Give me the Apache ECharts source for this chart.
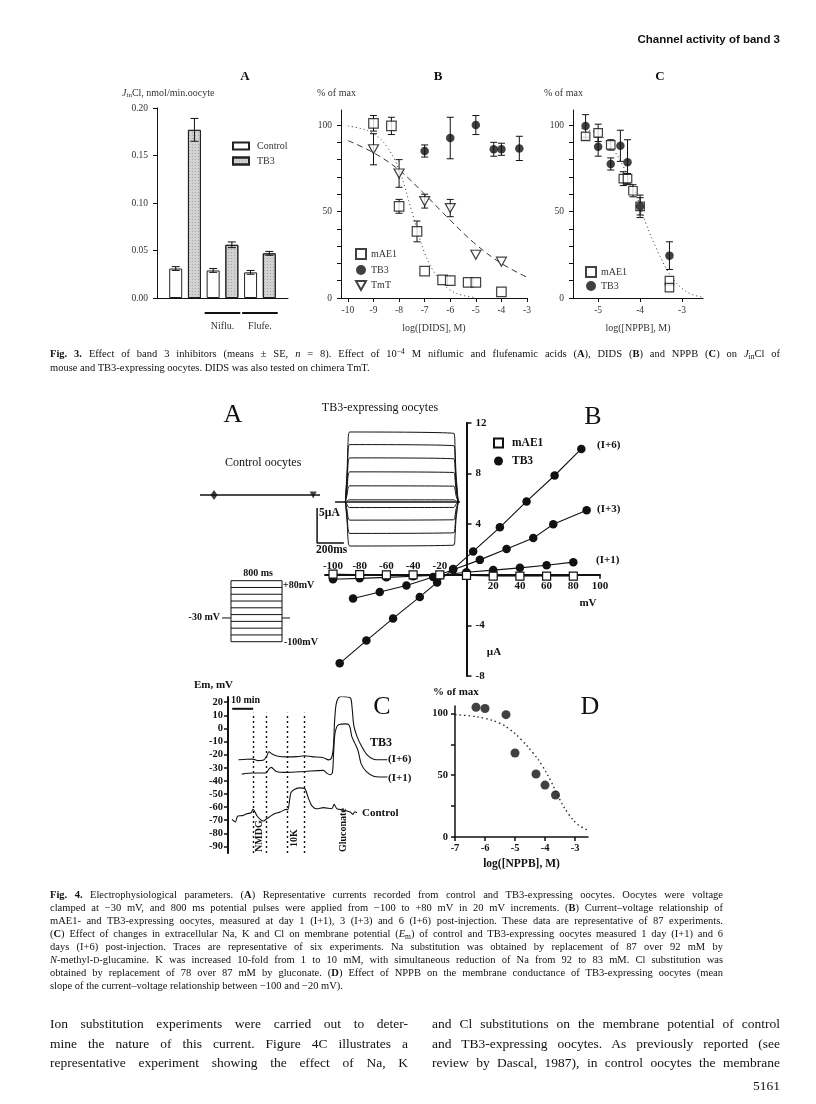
<!DOCTYPE html>
<html><head><meta charset="utf-8">
<script src="https://cdn.jsdelivr.net/npm/echarts@6/dist/echarts.min.js"></script>
<style>
body{margin:0;background:#fff;}
#page{position:relative;width:816px;height:1104px;overflow:hidden;font-family:"Liberation Serif","Times New Roman",serif;color:#111;background:#fff;}
#chart{position:absolute;left:0;top:0;width:816px;height:1104px;}
.t{position:absolute;white-space:nowrap;}
.j{position:absolute;white-space:nowrap;display:inline-block;}
.cap{font-size:10.5px;}
.body{font-size:13.5px;}
.sub{font-size:0.72em;vertical-align:-0.25em;line-height:0;}
.sup{font-size:0.72em;vertical-align:0.45em;line-height:0;}
</style></head><body>
<div id="page">
<div id="chart"></div>
<div class="t" style="right:36px;top:33px;font:bold 11.5px 'Liberation Sans',sans-serif;">Channel activity of band 3</div>

<div class="j cap" data-w="730" style="left:50px;top:348px;"><b>Fig. 3.</b> Effect of band 3 inhibitors (means ± SE, <i>n</i> = 8). Effect of 10<span class="sup">−4</span> M niflumic and flufenamic acids (<b>A</b>), DIDS (<b>B</b>) and NPPB (<b>C</b>) on <i>J</i><span class="sub">in</span>Cl of</div>
<div class="t cap" style="left:50px;top:362px;">mouse and TB3-expressing oocytes. DIDS was also tested on chimera TmT.</div>

<div class="j cap" data-w="673" style="left:50px;top:889px;"><b>Fig. 4.</b> Electrophysiological parameters. (<b>A</b>) Representative currents recorded from control and TB3-expressing oocytes. Oocytes were voltage</div>
<div class="j cap" data-w="673" style="left:50px;top:902px;">clamped at −30 mV, and 800 ms potential pulses were applied from −100 to +80 mV in 20 mV increments. (<b>B</b>) Current–voltage relationship of</div>
<div class="j cap" data-w="673" style="left:50px;top:915px;">mAE1- and TB3-expressing oocytes, measured at day 1 (I+1), 3 (I+3) and 6 (I+6) post-injection. These data are representative of 87 experiments.</div>
<div class="j cap" data-w="673" style="left:50px;top:928px;">(<b>C</b>) Effect of changes in extracellular Na, K and Cl on membrane potential (<i>E</i><span class="sub">m</span>) of control and TB3-expressing oocytes measured 1 day (I+1) and 6</div>
<div class="j cap" data-w="673" style="left:50px;top:941px;">days (I+6) post-injection. Traces are representative of six experiments. Na substitution was obtained by replacement of 87 over 92 mM by</div>
<div class="j cap" data-w="673" style="left:50px;top:954px;"><i>N</i>-methyl-<span style="font-size:0.8em">D</span>-glucamine. K was increased 10-fold from 1 to 10 mM, with simultaneous reduction of Na from 92 to 83 mM. Cl substitution was</div>
<div class="j cap" data-w="673" style="left:50px;top:967px;">obtained by replacement of 78 over 87 mM by gluconate. (<b>D</b>) Effect of NPPB on the membrane conductance of TB3-expressing oocytes (mean</div>
<div class="t cap" style="left:50px;top:980px;">slope of the current–voltage relationship between −100 and −20 mV).</div>

<div class="j body" data-w="358" style="left:50px;top:1016px;">Ion substitution experiments were carried out to deter-</div>
<div class="j body" data-w="358" style="left:50px;top:1035.5px;">mine the nature of this current. Figure 4C illustrates a</div>
<div class="j body" data-w="358" style="left:50px;top:1055px;">representative experiment showing the effect of Na, K</div>
<div class="j body" data-w="348" style="left:432px;top:1016px;">and Cl substitutions on the membrane potential of control</div>
<div class="j body" data-w="348" style="left:432px;top:1035.5px;">and TB3-expressing oocytes. As previously reported (see</div>
<div class="j body" data-w="348" style="left:432px;top:1055px;">review by Dascal, 1987), in control oocytes the membrane</div>
<div class="t body" style="right:36px;top:1078px;">5161</div>
</div>
<script>
// ================= DATA =================
// Fig 3A : JinCl flux (nmol/min.oocyte)
const fig3aGroups = ['', 'Niflu.', 'Flufe.'];
const fig3aControl = [0.031, 0.029, 0.027];
const fig3aControlSE = [0.002, 0.002, 0.002];
const fig3aTB3 = [0.177, 0.056, 0.047];
const fig3aTB3SE = [0.012, 0.003, 0.002];

// Fig 3B : DIDS (% of max)
const didsTicks = [-10, -9, -8, -7, -6, -5, -4, -3];
const pctTicks = [0, 10, 20, 30, 40, 50, 60, 70, 80, 90, 100];
const pctLabels = [0, 50, 100];
const bMae1X = [-9, -8.3, -8, -7.3, -7, -6.3, -6, -5.3, -5, -4];
const bMae1Y = [101, 99.5, 53, 38.5, 15.5, 10.5, 10, 9, 9, 3.5];
const bMae1E = [4.5, 5, 4, 6, 0, 0, 0, 0, 0, 0];
const bTb3X = [-7, -6, -5, -4.3, -4, -3.3];
const bTb3Y = [85, 92.5, 100, 86, 86, 86.5];
const bTb3E = [3.5, 12, 5.5, 4, 3.5, 7];
const bTmtX = [-9, -8, -7, -6, -5, -4];
const bTmtY = [86, 72, 56, 52, 25, 21];
const bTmtE = [9, 8, 4, 5, 0, 0];
const bFitMae1X = [-10, -9.5, -9, -8.5, -8, -7.5, -7, -6.5, -6, -5.5, -5];
const bFitMae1Y = [99.5, 98, 95, 88, 74, 50, 26, 12, 4.5, 1.5, 0.3];
const bFitTmtX = [-10, -9, -8, -7, -6, -5, -4, -3];
const bFitTmtY = [91, 84, 74, 60, 45, 31, 20, 12];

// Fig 3C : NPPB (% of max)
const nppbTicksC = [-5, -4, -3];
const cMae1X = [-5.3, -5, -4.7, -4.4, -4.3, -4.17, -4, -3.3, -3.3];
const cMae1Y = [93.5, 95.5, 88.5, 69, 69, 62, 53, 10, 6];
const cMae1E = [2, 5, 3, 4, 3, 3.5, 5, 0, 0];
const cTb3X = [-5.3, -5, -4.7, -4.47, -4.3, -4, -3.3];
const cTb3Y = [99.5, 87.5, 77.5, 88, 78.5, 53, 24.5];
const cTb3E = [6.5, 5.5, 3.5, 9, 13, 6.5, 8];
const cFitX = [-5.4, -5, -4.7, -4.4, -4.1, -3.86, -3.6, -3.3, -3, -2.75, -2.5];
const cFitY = [98, 95, 88, 76, 60, 43, 28, 14, 5.5, 2, 0.5];

// Fig 4A : current traces (µA) and voltage protocol (mV)
const tb3PulseLevels = [10.0, 8.2, 6.3, 4.3, 2.3, 0.3, -0.8, -2.6, -4.5, -6.3];
const pulseShapeT = [-20, -6, 0, 12, 790, 798, 806, 822];
const pulseShapeF = [0, 0.5, 0.85, 1, 0.98, 0.8, 0.4, 0];
const protocolLevels = [-100, -80, -60, -40, -20, 0, 20, 40, 60, 80];
const holdingMV = -30;
const pulseMs = 800;

// Fig 4B : current-voltage (mV, µA)
const ivMae1MV = [-100, -80, -60, -40, -20, 0, 20, 40, 60, 80];
const ivMae1UA = [0.05, 0.02, 0, 0, 0, -0.05, -0.1, -0.1, -0.1, -0.1];
const ivI1MV = [-100, -80, -60, -40, -20, 0, 20, 40, 60, 80];
const ivI1UA = [-0.35, -0.28, -0.2, -0.12, -0.04, 0.2, 0.37, 0.55, 0.75, 1.0];
const ivI3MV = [-85, -65, -45, -25, -10, 10, 30, 50, 65, 90];
const ivI3UA = [-1.88, -1.36, -0.84, -0.18, 0.4, 1.18, 2.04, 2.9, 4.0, 5.1];
const ivI6MV = [-95, -75, -55, -35, -22, -10, 5, 25, 45, 66, 86];
const ivI6UA = [-7.0, -5.2, -3.45, -1.75, -0.6, 0.45, 1.85, 3.75, 5.8, 7.85, 9.95];
const ivXTicksNeg = [-100, -80, -60, -40, -20];
const ivXTicksPos = [20, 40, 60, 80, 100];
const ivYTicks = [-8, -4, 4, 8, 12];

// Fig 4C : membrane potential traces [time (min), Em (mV)]
const emTicks = [-90, -80, -70, -60, -50, -40, -30, -20, -10, 0, 10, 20];
const emControl = [[1.9,-69.3],[3.5,-71.3],[4.7,-66.8],[7,-66.5],[9,-65],[11,-64.3],[11.9,-61.7],[13.9,-66.8],[15.5,-69.5],[17,-70.6],[18.1,-69.3],[21.7,-65.5],[24.9,-63.7],[27.8,-61.7],[28.5,-62],[30,-49],[31.6,-46.5],[34,-45.3],[36.5,-45.8],[38.3,-53],[40,-59],[42.4,-61.2],[45.5,-60.4],[49.5,-61.2],[50.6,-57.9],[51.9,-61.2],[55,-62.2],[58.2,-63.7],[59.5,-65.5],[60.5,-63.5],[61.5,-64.3]];
const emI6 = [[5.0,-23.9],[9,-23.5],[11.9,-23.4],[14,-24.5],[17,-24],[18.5,-21],[19.5,-17.8],[21,-19.5],[23.3,-21],[28,-21.7],[33,-21.5],[36.5,-20.8],[40,-21.5],[45.5,-22.3],[47.9,-24],[49.3,-22.5],[50.2,-15],[50.8,5],[51.5,18],[52.5,23],[54,24.5],[57,24],[58.5,23],[59.2,15],[60,2],[61.5,-6],[63.5,-13],[66,-19.5],[69.4,-23.5],[72.5,-23.9],[76,-23.9]];
const emI1 = [[6.6,-34.8],[11.9,-34],[18,-34],[19.5,-31],[20.6,-29.7],[23,-32.8],[28.1,-33.5],[36.5,-32.8],[45.5,-32],[47,-34],[48.7,-35.3],[49.8,-33.5],[50.3,-20],[50.9,-5],[51.8,1],[53,3],[56,3.5],[57.5,3],[58.3,0],[59,-6],[60.4,-11],[62,-17],[63.5,-27],[66,-33],[69.4,-36.5],[72.5,-37],[76,-37]];
const solutionTimes = [11.9, 18.1, 28.1, 36.5, 50.0, 59.0];
const solutionTops = [12, 12, 12, 12, 27, 27];
const solutionNames = ['NMDG', '10K', 'Gluconate'];

// Fig 4D : NPPB effect on conductance (% of max)
const nppbTicksD = [-7, -6, -5, -4, -3];
const dX = [-6.3, -6.0, -5.3, -5.0, -4.3, -4.0, -3.65];
const dY = [105, 104, 99, 68, 51, 42, 34];
const dFitX = [-7, -6.5, -6, -5.5, -5.17, -4.8, -4.4, -4.1, -3.8, -3.5, -3.2, -2.9, -2.57];
const dFitY = [99, 98, 96, 92, 87, 79, 68, 58, 45, 30, 18, 10, 5.5];

// ================= CHART =================
const SERIF = 'Liberation Serif';
const zip = (xs, ys) => xs.map((x, i) => [x, ys[i]]);
const zip3 = (xs, ys, es) => xs.map((x, i) => [x, ys[i], es[i]]);
const ink = '#111';
const f3Label = {fontFamily: SERIF, fontSize: 9.5, color: '#333'};
const f4Label = {fontFamily: SERIF, fontSize: 11, color: ink, fontWeight: 'bold'};
const lineStyle = (w) => ({color: ink, width: w});

// grid for 4B and the resulting axis-crossing offsets (axes cross at 0,0)
const ivGrid = {left: 325, top: 423, width: 275, height: 253};
const ivX = [-106, 100], ivY = [-8, 12];
const ivZeroX = (0 - ivX[0]) / (ivX[1] - ivX[0]) * ivGrid.width;
const ivZeroYfromBottom = (0 - ivY[0]) / (ivY[1] - ivY[0]) * ivGrid.height;

function errSeries(xi, yi, data, cap) {
  return {type: 'custom', xAxisIndex: xi, yAxisIndex: yi, data, z: 1, silent: true,
    encode: {x: 0, y: 1}, clip: false,
    renderItem: (p, api) => {
      const x = api.value(0), y = api.value(1), e = api.value(2);
      if (!e) return null;
      const a = api.coord([x, y + e]), b = api.coord([x, y - e]), h = cap / 2;
      const st = {stroke: ink, lineWidth: 1};
      return {type: 'group', children: [
        {type: 'line', shape: {x1: a[0], y1: a[1], x2: b[0], y2: b[1]}, style: st},
        {type: 'line', shape: {x1: a[0] - h, y1: a[1], x2: a[0] + h, y2: a[1]}, style: st},
        {type: 'line', shape: {x1: b[0] - h, y1: b[1], x2: b[0] + h, y2: b[1]}, style: st}]};
    }};
}
const openSquare = (s) => ({symbol: 'rect', symbolSize: s, itemStyle: {color: '#fff', borderColor: ink, borderWidth: 1.2}});
const dot = (s) => ({symbol: 'circle', symbolSize: s, itemStyle: {color: ink}});
const openTri = (s) => ({symbol: 'triangle', symbolRotate: 180, symbolSize: s, itemStyle: {color: '#fff', borderColor: ink, borderWidth: 1.2}});

const xAxes = [
  // 0: 3A
  {gridIndex: 0, type: 'value', min: 0, max: 7, axisLine: {show: true, onZero: false, lineStyle: lineStyle(1)},
   axisTick: {show: false}, splitLine: {show: false},
   axisLabel: {customValues: [3.5, 5.5], formatter: v => fig3aGroups[Math.round((v - 1.5) / 2)], margin: 23, ...f3Label, fontSize: 10}},
  // 1: 3B
  {gridIndex: 1, type: 'value', min: -10.27, max: -3, axisLine: {show: true, onZero: false, lineStyle: lineStyle(1)},
   axisTick: {show: true, customValues: didsTicks, length: 4, lineStyle: lineStyle(1)}, splitLine: {show: false},
   axisLabel: {customValues: didsTicks, margin: 7, ...f3Label},
   name: 'log([DIDS], M)', nameLocation: 'middle', nameGap: 25, nameTextStyle: {...f3Label, fontSize: 10}},
  // 2: 3C
  {gridIndex: 2, type: 'value', min: -5.6, max: -2.5, axisLine: {show: true, onZero: false, lineStyle: lineStyle(1)},
   axisTick: {show: true, customValues: nppbTicksC, length: 4, lineStyle: lineStyle(1)}, splitLine: {show: false},
   axisLabel: {customValues: nppbTicksC, margin: 7, ...f3Label},
   name: 'log([NPPB], M)', nameLocation: 'middle', nameGap: 25, nameTextStyle: {...f3Label, fontSize: 10}},
  // 3: 4A control
  {gridIndex: 3, type: 'value', min: -113, max: 855, show: false},
  // 4: 4A TB3
  {gridIndex: 4, type: 'value', min: -284, max: 873, show: false},
  // 5: protocol
  {gridIndex: 5, type: 'value', min: -141, max: 925, show: false},
  // 6: 4B bottom (positive labels), moved up to y = 0
  {gridIndex: 6, type: 'value', min: ivX[0], max: ivX[1], position: 'bottom', offset: -ivZeroYfromBottom,
   axisLine: {show: true, onZero: false, lineStyle: lineStyle(2)},
   axisTick: {show: true, customValues: ivXTicksPos, length: 4, lineStyle: lineStyle(1.5)}, splitLine: {show: false},
   axisLabel: {customValues: ivXTicksPos, margin: 6, ...f4Label}},
  // 7: 4B top (negative labels), moved down to y = 0
  {gridIndex: 6, type: 'value', min: ivX[0], max: ivX[1], position: 'top', offset: -(ivGrid.height - ivZeroYfromBottom),
   axisLine: {show: false, onZero: false}, axisTick: {show: false}, splitLine: {show: false},
   axisLabel: {customValues: ivXTicksNeg, margin: 3, ...f4Label}},
  // 8: 4C
  {gridIndex: 7, type: 'value', min: 0, max: 82, show: false},
  // 9: 4D
  {gridIndex: 8, type: 'value', min: -7, max: -2.567, axisLine: {show: true, onZero: false, lineStyle: lineStyle(1.5)},
   axisTick: {show: true, customValues: nppbTicksD, length: 4, lineStyle: lineStyle(1.5)}, splitLine: {show: false},
   axisLabel: {customValues: nppbTicksD, margin: 6, ...f4Label, fontSize: 10.5},
   name: 'log([NPPB], M)', nameLocation: 'middle', nameGap: 21, nameTextStyle: {...f4Label, fontSize: 11.5}}
];

const yAxes = [
  // 0: 3A
  {gridIndex: 0, type: 'value', min: 0, max: 0.2, interval: 0.05, axisLine: {show: true, onZero: false, lineStyle: lineStyle(1)},
   axisTick: {show: true, length: 4, lineStyle: lineStyle(1)}, splitLine: {show: false},
   axisLabel: {formatter: v => v.toFixed(2), margin: 9, ...f3Label}},
  // 1: 3B
  {gridIndex: 1, type: 'value', min: 0, max: 108.7, axisLine: {show: true, onZero: false, lineStyle: lineStyle(1)},
   axisTick: {show: true, customValues: pctTicks, length: 4, lineStyle: lineStyle(1)}, splitLine: {show: false},
   axisLabel: {customValues: pctLabels, margin: 9, ...f3Label}},
  // 2: 3C
  {gridIndex: 2, type: 'value', min: 0, max: 108.7, axisLine: {show: true, onZero: false, lineStyle: lineStyle(1)},
   axisTick: {show: true, customValues: pctTicks, length: 4, lineStyle: lineStyle(1)}, splitLine: {show: false},
   axisLabel: {customValues: pctLabels, margin: 9, ...f3Label}},
  // 3: 4A control
  {gridIndex: 3, type: 'value', min: -2, max: 2, show: false},
  // 4: 4A TB3
  {gridIndex: 4, type: 'value', min: -8.3, max: 11, show: false},
  // 5: protocol
  {gridIndex: 5, type: 'value', min: -110, max: 90, show: false},
  // 6: 4B, moved right to x = 0
  {gridIndex: 6, type: 'value', min: ivY[0], max: ivY[1], position: 'left', offset: -ivZeroX,
   axisLine: {show: true, onZero: false, lineStyle: lineStyle(2)},
   axisTick: {show: true, inside: true, customValues: ivYTicks, length: 5, lineStyle: lineStyle(1.5)}, splitLine: {show: false},
   axisLabel: {inside: true, customValues: ivYTicks, margin: 9, ...f4Label}},
  // 7: 4C
  {gridIndex: 7, type: 'value', min: -95, max: 24, axisLine: {show: true, onZero: false, lineStyle: lineStyle(2)},
   axisTick: {show: true, customValues: emTicks, length: 4, lineStyle: lineStyle(1.5)}, splitLine: {show: false},
   axisLabel: {customValues: emTicks, margin: 5, ...f4Label, fontSize: 10.5}},
  // 8: 4D
  {gridIndex: 8, type: 'value', min: 0, max: 106, axisLine: {show: true, onZero: false, lineStyle: lineStyle(1.5)},
   axisTick: {show: true, customValues: [0, 25, 50, 75, 100], length: 4, lineStyle: lineStyle(1.5)}, splitLine: {show: false},
   axisLabel: {customValues: pctLabels, margin: 7, ...f4Label, fontSize: 10.5}}
];

const series = [];
// ---- Fig 3A bars
series.push({name: 'Control|A', type: 'bar', xAxisIndex: 0, yAxisIndex: 0, barWidth: 13, barGap: '-100%',
  data: fig3aControl.map((v, g) => [2 * g + 1, v]), itemStyle: {color: '#fff', borderColor: '#222', borderWidth: 1}, z: 2});
series.push({name: 'TB3|A', type: 'bar', xAxisIndex: 0, yAxisIndex: 0, barWidth: 13, barGap: '-100%',
  data: fig3aTB3.map((v, g) => [2 * g + 2, v]), itemStyle: {color: '#d2d2d2', borderColor: '#222', borderWidth: 1,
  decal: {symbol: 'rect', symbolSize: 1, dashArrayX: [1, 2], dashArrayY: [1, 2], color: 'rgba(0,0,0,0.22)'}}, z: 2});
const e3a = errSeries(0, 0, fig3aControl.map((v, g) => [2 * g + 1, v, fig3aControlSE[g]]).concat(
  fig3aTB3.map((v, g) => [2 * g + 2, v, fig3aTB3SE[g]])), 8); e3a.z = 3; series.push(e3a);
series.push({type: 'custom', xAxisIndex: 0, yAxisIndex: 0, silent: true, clip: false,
  data: fig3aGroups.map((n, g) => [2 * g + 0.55, 2 * g + 2.45, g]).filter(d => fig3aGroups[d[2]]),
  encode: {x: [0, 1]},
  renderItem: (p, api) => {
    const a = api.coord([api.value(0), 0]), b = api.coord([api.value(1), 0]);
    return {type: 'line', shape: {x1: a[0], y1: a[1] + 15, x2: b[0], y2: b[1] + 15}, style: {stroke: ink, lineWidth: 2}};
  }});

// ---- Fig 3B
series.push({type: 'line', xAxisIndex: 1, yAxisIndex: 1, data: zip(bFitMae1X, bFitMae1Y), smooth: 0.4, symbol: 'none', silent: true,
  lineStyle: {color: '#333', width: 1, type: [1, 3]}});
series.push({type: 'line', xAxisIndex: 1, yAxisIndex: 1, data: zip(bFitTmtX, bFitTmtY), smooth: 0.4, symbol: 'none', silent: true,
  lineStyle: {color: '#333', width: 1, type: [6, 4]}});
series.push(errSeries(1, 1, zip3(bMae1X, bMae1Y, bMae1E), 7));
series.push(errSeries(1, 1, zip3(bTb3X, bTb3Y, bTb3E), 7));
series.push(errSeries(1, 1, zip3(bTmtX, bTmtY, bTmtE), 7));
series.push({name: 'mAE1|B', type: 'scatter', xAxisIndex: 1, yAxisIndex: 1, data: zip(bMae1X, bMae1Y), z: 4, ...openSquare(9.5)});
series.push({name: 'TB3|B', type: 'scatter', xAxisIndex: 1, yAxisIndex: 1, data: zip(bTb3X, bTb3Y), z: 4, ...dot(8.5)});
series.push({name: 'TmT|B', type: 'scatter', xAxisIndex: 1, yAxisIndex: 1, data: zip(bTmtX, bTmtY), z: 4, ...openTri([10, 9])});

// ---- Fig 3C
series.push({type: 'line', xAxisIndex: 2, yAxisIndex: 2, data: zip(cFitX, cFitY), smooth: 0.4, symbol: 'none', silent: true,
  lineStyle: {color: '#333', width: 1, type: [1, 3]}});
series.push(errSeries(2, 2, zip3(cMae1X, cMae1Y, cMae1E), 7));
series.push(errSeries(2, 2, zip3(cTb3X, cTb3Y, cTb3E), 7));
series.push({name: 'mAE1|C', type: 'scatter', xAxisIndex: 2, yAxisIndex: 2, data: zip(cMae1X, cMae1Y), z: 4, ...openSquare(8.5)});
series.push({name: 'TB3|C', type: 'scatter', xAxisIndex: 2, yAxisIndex: 2, data: zip(cTb3X, cTb3Y), z: 4, ...dot(8.5)});

// ---- Fig 4A control trace
series.push({type: 'line', xAxisIndex: 3, yAxisIndex: 3, data: [[-113, 0], [855, 0]], symbol: 'none', silent: true, clip: false,
  lineStyle: {color: ink, width: 1.5}});
series.push({type: 'scatter', xAxisIndex: 3, yAxisIndex: 3, silent: true,
  data: [{value: [0, 0], symbol: 'diamond', symbolSize: [7, 10]}, {value: [pulseMs, 0], symbol: 'triangle', symbolRotate: 180, symbolSize: [7, 7]}],
  itemStyle: {color: ink}});
// ---- Fig 4A TB3 traces
series.push({type: 'line', xAxisIndex: 4, yAxisIndex: 4, data: [[-97, 0], [836, 0]], symbol: 'none', silent: true, clip: false,
  lineStyle: {color: ink, width: 1.5}});
tb3PulseLevels.forEach(L => series.push({type: 'line', xAxisIndex: 4, yAxisIndex: 4, symbol: 'none', silent: true, clip: false,
  smooth: 0.2, data: pulseShapeT.map((t, k) => [t, L * pulseShapeF[k]]), lineStyle: {color: ink, width: 1}}));
// scale bar 5 µA / 200 ms
series.push({type: 'line', xAxisIndex: 4, yAxisIndex: 4, symbol: 'none', silent: true, clip: false,
  data: [[-231, -0.86], [-231, -5.86], [-231 + 200, -5.86]], lineStyle: {color: ink, width: 1.5}});
// ---- voltage protocol
protocolLevels.forEach(v => series.push({type: 'line', xAxisIndex: 5, yAxisIndex: 5, symbol: 'none', silent: true, clip: false,
  data: [[0, v], [pulseMs, v]], lineStyle: {color: ink, width: 1}}));
[0, pulseMs].forEach(t => series.push({type: 'line', xAxisIndex: 5, yAxisIndex: 5, symbol: 'none', silent: true, clip: false,
  data: [[t, protocolLevels[0]], [t, protocolLevels[protocolLevels.length - 1]]], lineStyle: {color: ink, width: 1}}));
series.push({type: 'line', xAxisIndex: 5, yAxisIndex: 5, symbol: 'none', silent: true, clip: false,
  data: [[-141, holdingMV], [0, holdingMV]], lineStyle: {color: ink, width: 1}});
series.push({type: 'line', xAxisIndex: 5, yAxisIndex: 5, symbol: 'none', silent: true, clip: false,
  data: [[pulseMs, holdingMV], [925, holdingMV]], lineStyle: {color: ink, width: 1}});

// ---- Fig 4B I-V
[[ivI1MV, ivI1UA], [ivI3MV, ivI3UA], [ivI6MV, ivI6UA]].forEach(([x, y]) => series.push({name: 'TB3|4B', type: 'line',
  xAxisIndex: 6, yAxisIndex: 6, data: zip(x, y), z: 3, lineStyle: {color: ink, width: 1.1}, ...dot(8.5)}));
series.push({name: 'mAE1|4B', type: 'line', xAxisIndex: 6, yAxisIndex: 6, data: zip(ivMae1MV, ivMae1UA), z: 4,
  lineStyle: {color: ink, width: 1}, ...openSquare(8)});

// ---- Fig 4C Em traces
series.push({type: 'line', xAxisIndex: 8, yAxisIndex: 7, data: emControl, symbol: 'none', smooth: 0.3, silent: true,
  lineStyle: {color: ink, width: 1.1},
  markLine: {silent: true, symbol: ['none', 'none'], label: {show: false}, lineStyle: {type: [2, 3], color: ink, width: 1.4},
    data: solutionTimes.map((t, i) => [{coord: [t, -95]}, {coord: [t, solutionTops[i]]}])}});
series.push({type: 'line', xAxisIndex: 8, yAxisIndex: 7, data: emI6, symbol: 'none', smooth: 0.3, silent: true, lineStyle: {color: ink, width: 1.1}});
series.push({type: 'line', xAxisIndex: 8, yAxisIndex: 7, data: emI1, symbol: 'none', smooth: 0.3, silent: true, lineStyle: {color: ink, width: 1.1}});
series.push({type: 'line', xAxisIndex: 8, yAxisIndex: 7, data: [[2, 15], [12, 15]], symbol: 'none', silent: true, lineStyle: {color: ink, width: 2}});

// ---- Fig 4D
series.push({type: 'line', xAxisIndex: 9, yAxisIndex: 8, data: zip(dFitX, dFitY), smooth: 0.4, symbol: 'none', silent: true,
  lineStyle: {color: '#222', width: 1.3, type: [1.5, 3]}});
series.push({type: 'scatter', xAxisIndex: 9, yAxisIndex: 8, data: zip(dX, dY), z: 4, ...dot(9)});

// ---- graphic texts
const txt = (text, x, y, o = {}) => ({type: 'text', x, y, silent: true, rotation: o.rot || 0,
  style: Object.assign({text, fill: ink, fontFamily: SERIF, fontSize: 11, align: 'left', verticalAlign: 'middle'}, o.s || {})});
const graphic = [
  txt('A', 245, 77, {s: {fontSize: 13, fontWeight: 'bold', align: 'center'}}),
  txt('B', 438, 77, {s: {fontSize: 13, fontWeight: 'bold', align: 'center'}}),
  txt('C', 660, 77, {s: {fontSize: 13, fontWeight: 'bold', align: 'center'}}),
  {type: 'text', x: 122, y: 93, silent: true, style: {text: '{j|J}{s|in}{n|Cl, nmol/min.oocyte}', verticalAlign: 'middle',
    rich: {j: {fontFamily: SERIF, fontSize: 10, fill: '#333', fontStyle: 'italic'}, s: {fontFamily: SERIF, fontSize: 7, fill: '#333', padding: [5, 0, 0, 0]},
      n: {fontFamily: SERIF, fontSize: 10, fill: '#333'}}}},
  txt('% of max', 317, 93, {s: {fontSize: 10, fill: '#333'}}),
  txt('% of max', 544, 93, {s: {fontSize: 10, fill: '#333'}}),
  txt('TB3-expressing oocytes', 380, 408, {s: {fontSize: 12, align: 'center'}}),
  txt('A', 233, 415, {s: {fontSize: 26, align: 'center'}}),
  txt('B', 593, 417, {s: {fontSize: 26, align: 'center'}}),
  txt('C', 382, 707, {s: {fontSize: 26, align: 'center'}}),
  txt('D', 590, 707, {s: {fontSize: 26, align: 'center'}}),
  txt('Control oocytes', 225, 463, {s: {fontSize: 12}}),
  txt('5µA', 319, 513, {s: {fontSize: 11.5, fontWeight: 'bold'}}),
  txt('200ms', 316, 550, {s: {fontSize: 11.5, fontWeight: 'bold'}}),
  txt('800 ms', 258, 573, {s: {fontSize: 10, fontWeight: 'bold', align: 'center'}}),
  txt('+80mV', 283, 585, {s: {fontSize: 10, fontWeight: 'bold'}}),
  txt('-100mV', 284, 642, {s: {fontSize: 10, fontWeight: 'bold'}}),
  txt('-30 mV', 220, 617, {s: {fontSize: 10, fontWeight: 'bold', align: 'right'}}),
  txt('(I+6)', 597, 445, {s: {fontSize: 11, fontWeight: 'bold'}}),
  txt('(I+3)', 597, 509, {s: {fontSize: 11, fontWeight: 'bold'}}),
  txt('(I+1)', 596, 560, {s: {fontSize: 11, fontWeight: 'bold'}}),
  txt('mV', 588, 603, {s: {fontSize: 11, fontWeight: 'bold', align: 'center'}}),
  txt('µA', 494, 652, {s: {fontSize: 11, fontWeight: 'bold', align: 'center'}}),
  txt('Em, mV', 233, 685, {s: {fontSize: 11, fontWeight: 'bold', align: 'right'}}),
  txt('10 min', 231, 700, {s: {fontSize: 10, fontWeight: 'bold'}}),
  txt('TB3', 370, 743, {s: {fontSize: 12, fontWeight: 'bold'}}),
  txt('(I+6)', 388, 759, {s: {fontSize: 11, fontWeight: 'bold'}}),
  txt('(I+1)', 388, 778, {s: {fontSize: 11, fontWeight: 'bold'}}),
  txt('Control', 362, 813, {s: {fontSize: 11, fontWeight: 'bold'}}),
  txt(solutionNames[0], 259, 852, {rot: Math.PI / 2, s: {fontSize: 10, fontWeight: 'bold'}}),
  txt(solutionNames[1], 294, 847, {rot: Math.PI / 2, s: {fontSize: 10, fontWeight: 'bold'}}),
  txt(solutionNames[2], 343.5, 852, {rot: Math.PI / 2, s: {fontSize: 10, fontWeight: 'bold'}}),
  txt('% of max', 433, 692, {s: {fontSize: 11, fontWeight: 'bold'}})
];

const legendText = (sz, w) => ({fontFamily: SERIF, fontSize: sz, color: ink, fontWeight: w || 'normal'});
const fmt = n => n.split('|')[0];
const option = {
  animation: false,
  backgroundColor: 'transparent',
  grid: [
    {left: 157, top: 108, width: 131, height: 190},
    {left: 341, top: 110, width: 186, height: 188},
    {left: 573, top: 110, width: 130, height: 188},
    {left: 200, top: 481, width: 120, height: 28},
    {left: 310, top: 425, width: 155, height: 135},
    {left: 222, top: 577.3, width: 68, height: 67.8},
    ivGrid,
    {left: 228, top: 697, width: 172, height: 156},
    {left: 455, top: 706, width: 133, height: 131}
  ],
  xAxis: xAxes,
  yAxis: yAxes,
  legend: [
    {left: 232, top: 141, orient: 'vertical', padding: 0, itemWidth: 16, itemHeight: 7, itemGap: 5, selectedMode: false,
     formatter: fmt, textStyle: {...legendText(10), color: '#333', padding: [0, 0, 0, 3]},
     data: [{name: 'Control|A', icon: 'rect'}, {name: 'TB3|A', icon: 'rect'}]},
    {left: 355, top: 248, orient: 'vertical', padding: 0, itemWidth: 10, itemHeight: 10, itemGap: 5, selectedMode: false,
     formatter: fmt, textStyle: {...legendText(10), color: '#333'},
     data: [{name: 'mAE1|B', icon: 'rect'}, {name: 'TB3|B', icon: 'circle'}, {name: 'TmT|B', icon: 'path://M0,0L10,0L5,9Z'}]},
    {left: 585, top: 266, orient: 'vertical', padding: 0, itemWidth: 10, itemHeight: 10, itemGap: 3, selectedMode: false,
     formatter: fmt, textStyle: {...legendText(10), color: '#333'},
     data: [{name: 'mAE1|C', icon: 'rect'}, {name: 'TB3|C', icon: 'circle'}]},
    {left: 493, top: 437, orient: 'vertical', padding: 0, itemWidth: 9, itemHeight: 9, itemGap: 6, selectedMode: false,
     formatter: fmt, textStyle: {...legendText(11.5, 'bold'), padding: [0, 0, 0, 4]},
     data: [{name: 'mAE1|4B', icon: 'rect'}, {name: 'TB3|4B', icon: 'circle'}]}
  ],
  series,
  graphic
};
const chart = echarts.init(document.getElementById('chart'), null, {renderer: 'canvas'});
chart.setOption(option);

// justify caption/body lines
document.querySelectorAll('.j').forEach(el => {
  const target = parseFloat(el.dataset.w);
  el.style.wordSpacing = '0px';
  const w = el.getBoundingClientRect().width;
  const n = (el.textContent.match(/ /g) || []).length;
  if (n > 0) el.style.wordSpacing = ((target - w) / n) + 'px';
});
</script>
</body></html>
